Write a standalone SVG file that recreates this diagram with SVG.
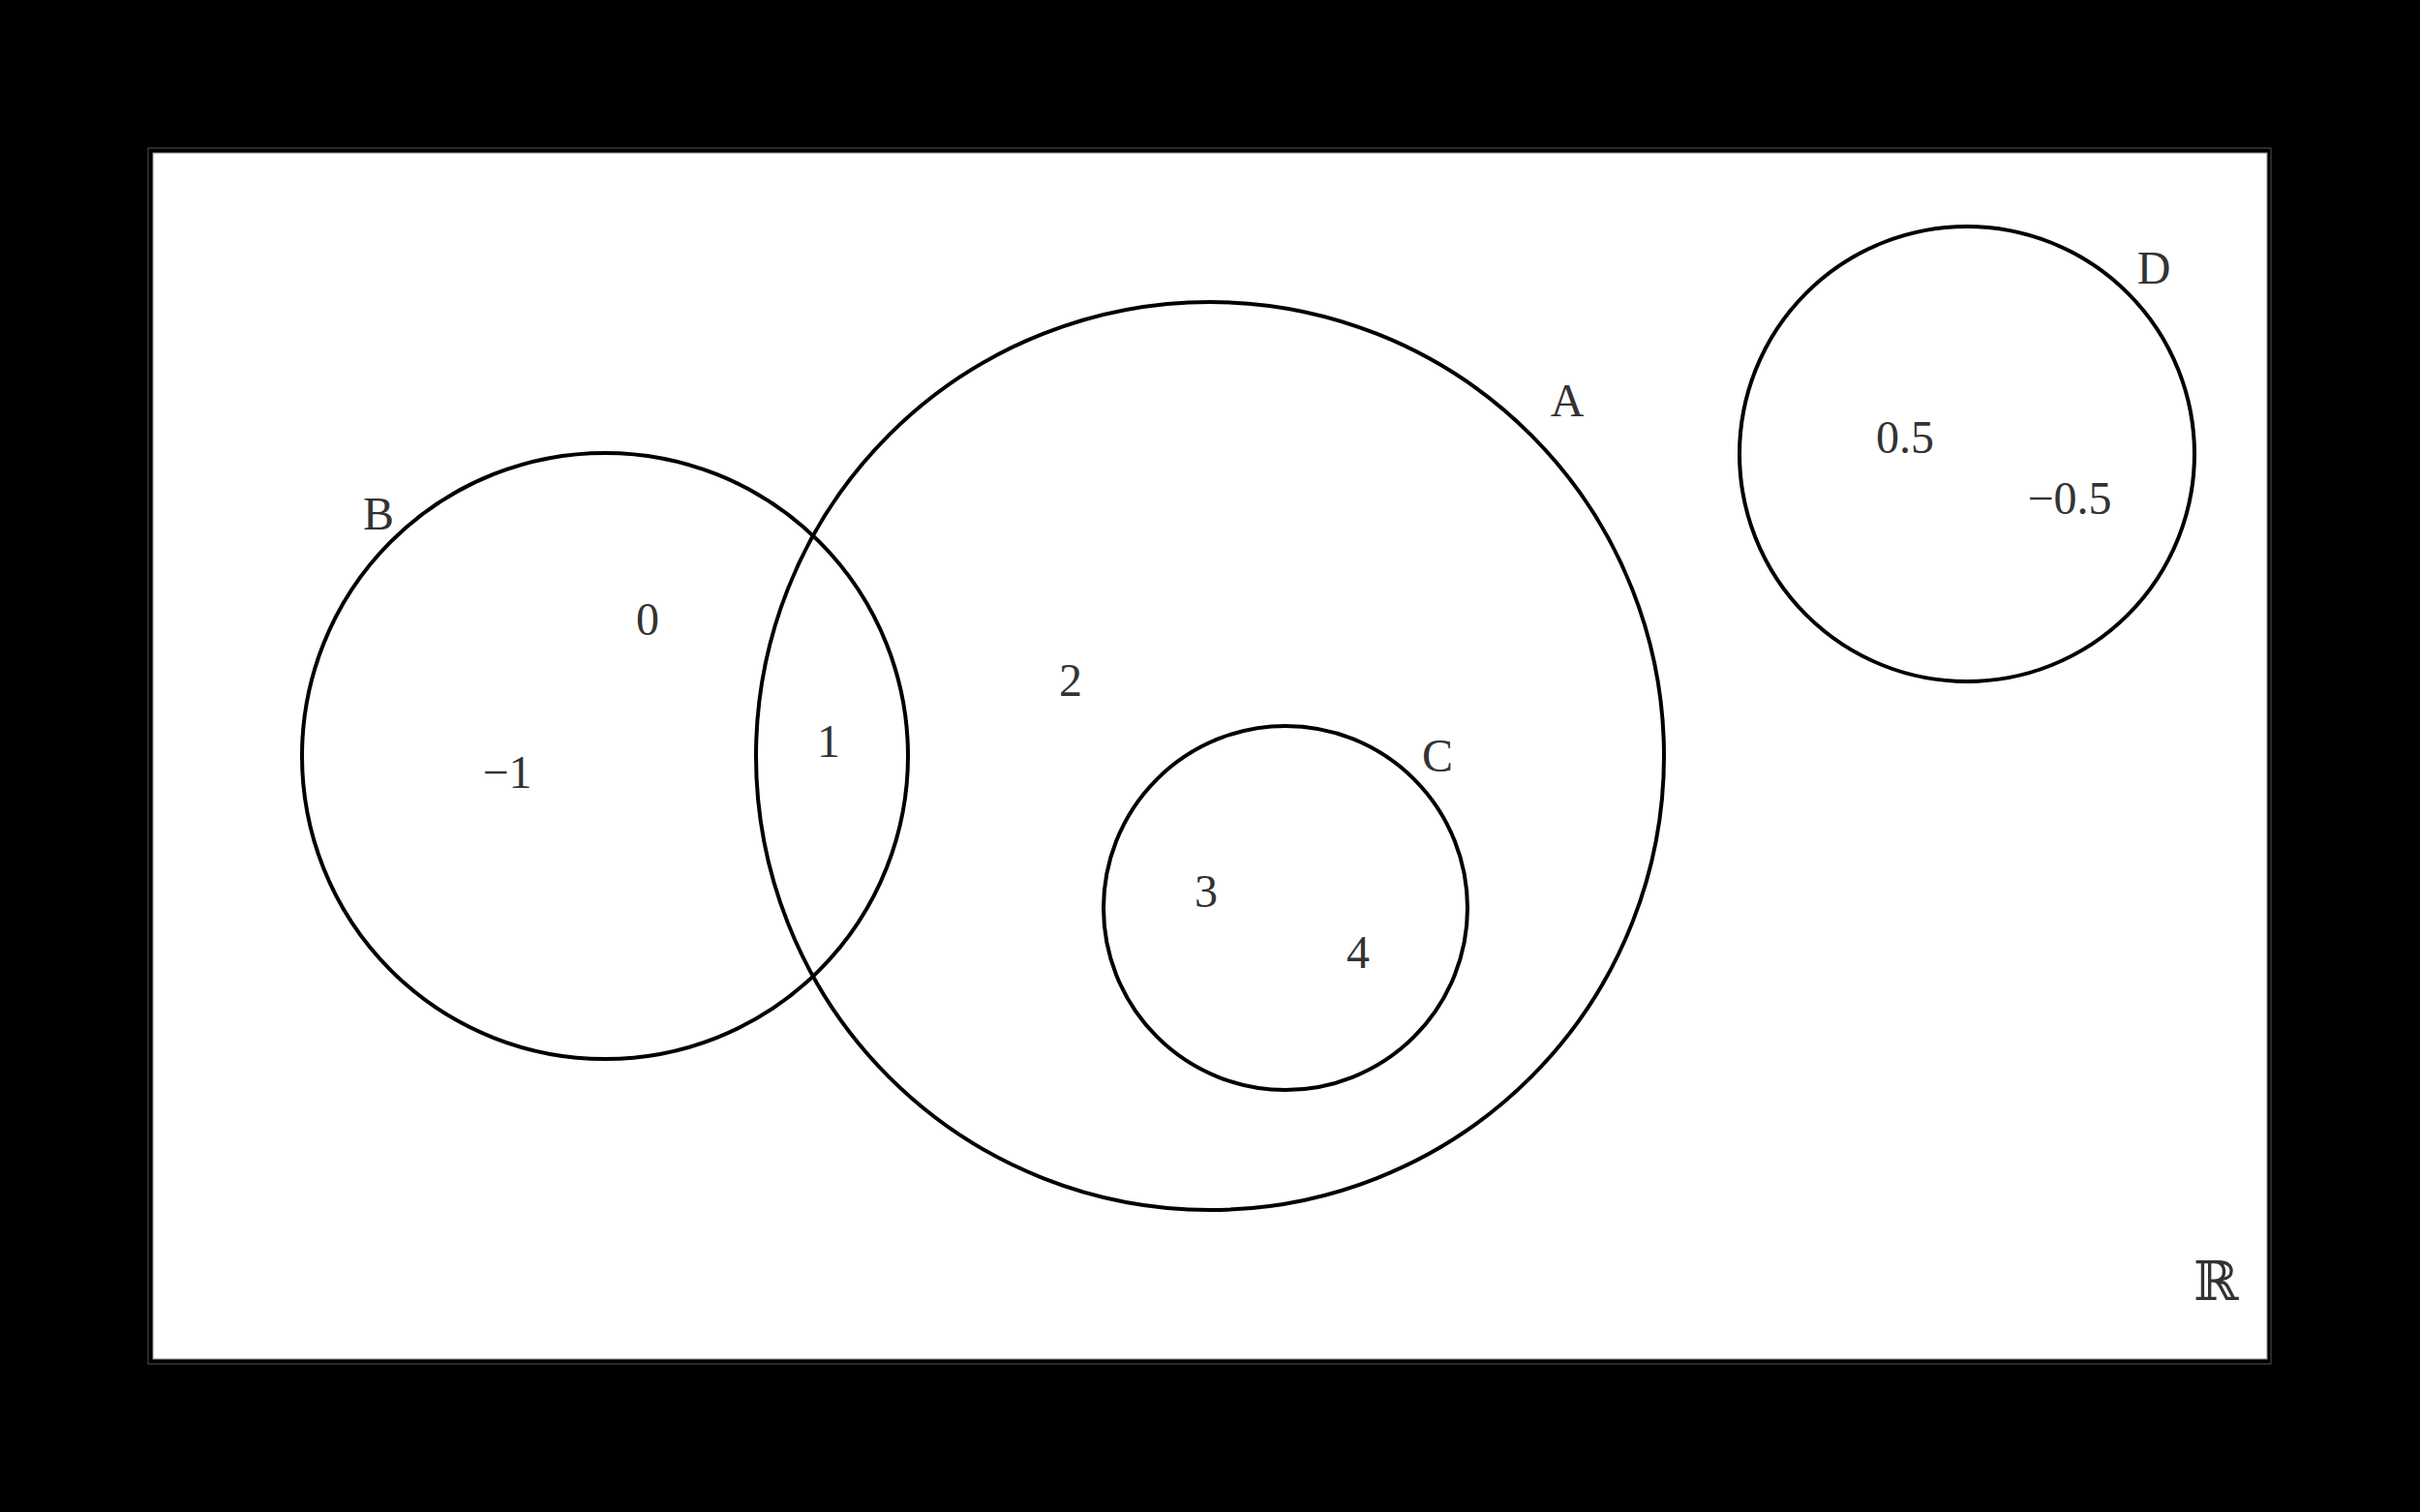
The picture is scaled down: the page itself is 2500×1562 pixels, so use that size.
<svg xmlns="http://www.w3.org/2000/svg" width="2500" height="1562" viewBox="0 0 2500 1562">
<style>
.set{fill:none;stroke:#000;stroke-width:4}
.t{font-family:"Liberation Serif","Times New Roman",serif;font-size:48px;fill:#333;text-anchor:middle}
.r{font-family:"DejaVu Serif","Liberation Serif",serif;font-size:56px;fill:#333;text-anchor:middle}
</style>
<rect x="0" y="0" width="2500" height="1562" fill="#000"/>
<rect x="153" y="153" width="2193" height="1256" fill="none" stroke="#555" stroke-width="1"/>
<rect x="158" y="158" width="2184" height="1246" fill="#fff" stroke="#888" stroke-width="1"/>
<g id="universe"><text class="r" x="2289" y="1343">ℝ</text></g>
<g id="setB"><circle class="set" cx="625" cy="781" r="313"/><text class="t" x="391" y="547">B</text></g>
<g id="setA"><circle class="set" cx="1250" cy="781" r="469"/><text class="t" x="1619" y="430">A</text></g>
<g id="setC"><circle class="set" cx="1328" cy="938" r="188"/><text class="t" x="1485" y="797">C</text></g>
<g id="setD"><circle class="set" cx="2032" cy="469" r="235"/><text class="t" x="2225" y="293">D</text></g>
<g id="elements">
<text class="t" x="669" y="656">0</text>
<text class="t" x="524" y="814">−1</text>
<text class="t" x="856" y="782">1</text>
<text class="t" x="1106" y="719">2</text>
<text class="t" x="1246" y="937">3</text>
<text class="t" x="1403" y="1000">4</text>
<text class="t" x="1968" y="468">0.5</text>
<text class="t" x="2138" y="531">−0.5</text>
</g>
<g id="connectors"></g>
</svg>
